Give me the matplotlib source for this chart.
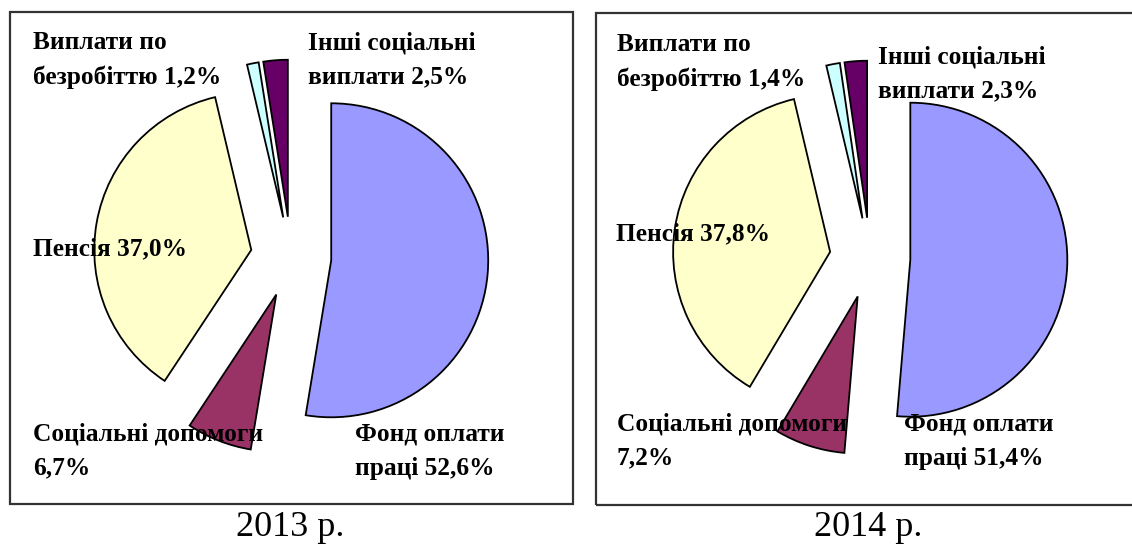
import matplotlib.pyplot as plt
from matplotlib.patches import Rectangle

W, H = 1132, 555

categories = ["Фонд оплати праці", "Соціальні допомоги", "Пенсія",
              "Виплати по безробіттю", "Інші соціальні виплати"]
label_fmt = ["Фонд оплати\nпраці {}%", "Соціальні допомоги\n{}%", "Пенсія {}%",
             "Виплати по\nбезробіттю {}%", "Інші соціальні\nвиплати {}%"]
shares_2013 = [52.6, 6.7, 37.0, 1.2, 2.5]
shares_2014 = [51.4, 7.2, 37.8, 1.4, 2.3]
years = ["2013 р.", "2014 р."]
colors = ["#9999ff", "#993366", "#ffffcc", "#ccffff", "#660066"]

# panel layout in pixels (y measured from the top)
panels = [
    dict(values=shares_2013, center=(291, 257), box=(10, 12, 573, 504),
         caption=(290, 528),
         label_pos=[(355, 451), (33, 451), (33, 249), (33, 60), (308, 60)]),
    dict(values=shares_2014, center=(870, 258), box=(596, 13, 1145, 505),
         caption=(868, 528),
         label_pos=[(904, 441), (617, 441), (616, 234), (617, 62), (878, 74)]),
]
radius = 157
# pie() offsets wedges by explode in data units, so scale by radius
explode = 0.257 * radius

plt.rcParams["font.family"] = ["Liberation Serif", "DejaVu Serif"]

fig = plt.figure(figsize=(W / 100, H / 100), dpi=100)
ax = fig.add_axes([0, 0, 1, 1])

for panel, year in zip(panels, years):
    x0, y0, x1, y1 = panel["box"]
    ax.add_patch(Rectangle((x0, H - y1), x1 - x0, y1 - y0, fill=False,
                           edgecolor="#333333", linewidth=1.6, zorder=1))

    cx, cy = panel["center"]
    ax.pie(panel["values"], colors=colors, radius=radius, center=(cx, H - cy),
           explode=[explode] * len(panel["values"]), startangle=90,
           counterclock=False, frame=True,
           wedgeprops=dict(edgecolor="black", linewidth=1.3))

    for fmt, val, (tx, ty) in zip(label_fmt, panel["values"], panel["label_pos"]):
        txt = fmt.format(f"{val:.1f}".replace(".", ","))
        ax.text(tx, H - ty, txt, ha="left", va="center", fontsize=18.3,
                fontweight="bold", linespacing=1.62, zorder=5)

    ax.text(panel["caption"][0], H - panel["caption"][1], year, ha="center",
            va="center", fontsize=26)

ax.set_xlim(0, W)
ax.set_ylim(0, H)
ax.set_aspect("equal")
ax.set_axis_off()

plt.savefig("out.png", dpi=100)
